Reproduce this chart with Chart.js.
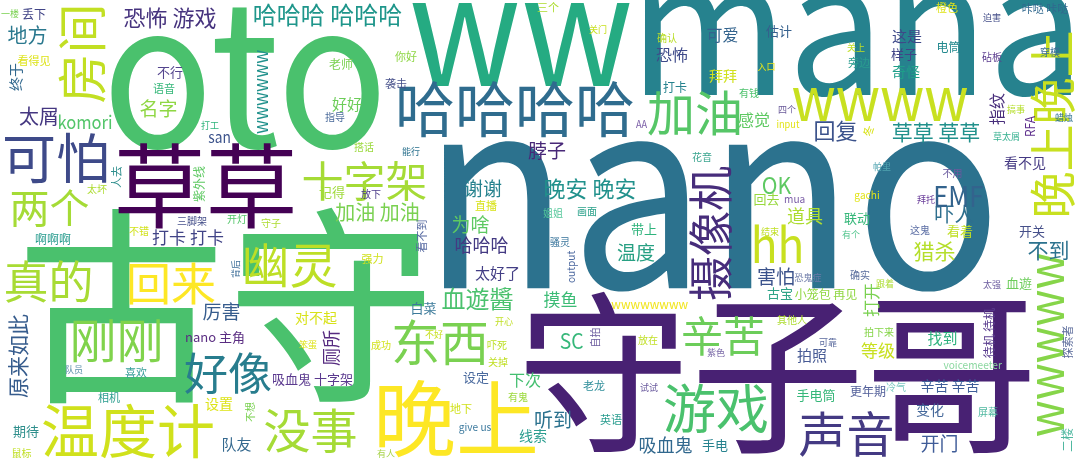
<!DOCTYPE html>
<html>
<head>
<meta charset="utf-8">
<script src="https://cdn.jsdelivr.net/npm/chart.js@4/dist/chart.umd.min.js"></script>
<style>
  html, body { margin: 0; padding: 0; background: #ffffff; }
  #cloud { display: block; }
</style>
</head>
<body>
<canvas id="cloud" width="1080" height="463"></canvas>
<script>
// words of the cloud and their weight (weight = font size in px)
const words = [
  '古守','nano','oto','守子哥','mana','ww','草草','晚上','哈哈哈哈','温度计',
  '可怕','游戏','房间','东西','加油','幽灵','声音','wwwww','wwww','两个',
  '真的','回来','十字架','刚刚','好像','没事','摄像机','辛苦','hh','晚上晚上',
  '恐怖 游戏','哈哈哈 哈哈哈','晚安 晚安','血遊醬','原来如此','草草 草草','回复','地方','太屑','名字',
  'komori','加油 加油','谢谢','为啥','哈哈哈','打卡 打卡','厉害','温度','害怕','摸鱼',
  '吓人','EMF','猎杀','不到','开门','听到','等级','厕所','打开','OK',
  '吸血鬼','SC','指纹','看不见','可爱','恐怖','感觉','下次','好好','这是',
  '道具','拍照','找到','太好了','队友','设置','对不起','辛苦 辛苦','变化','奇怪',
  '拜拜','线索','nano 主角','样子','估计','终于','看不到','记得','不行','联动',
  '看着','开关','血遊','带上','回去','古宝','期待','白菜','吸血鬼 十字架','设定',
  '手电筒','手电','打卡','电筒','小笼包 再见','更年期','待机 待机','老师','丢下','啊啊啊',
  '紫外线','二楼','RFA','output','wwwwww','wwwwwwww','san','看得见','语音','你好',
  '袭击','三个','旁边','橙色','咔哒 咔哒','强力','直播','人去','喜欢','相机',
  '地下','give us','英语','老龙','探索者','冬','不想','确认','有钱','砧板',
  '穿模','AA','input','搭话','太坏','三脚架','开灯','不错','守子','放下',
  '姐姐','画面','骚灵','花音','不用','gachi','这鬼','确实','成功','吓死',
  '关掉','有鬼','鼠标','放在','其他人','自拍','拍下来','冷气','屏幕','voicemeeter',
  '不好','开心','笨蛋','有人','紫色','试试','可靠','一楼','打工','指导',
  '能行','关门','入口','四个','迫害','关上','搞事','蜡烛','草太屑','结束',
  'mua','恐鬼症','帕里','拜托','有个','跟着','太强','背后','队员','脖子'
];
const freq = [
  210,264,200,174,186,152,92,83,60,58,
  54,53,50,49,48,48,48,50,60,40,
  45,45,42,47,44,47,45,42,48,47,
  22,24,22,24,21,21,22,20,20,19,
  18,20,19,19,18,17,19,19,19,17,
  20,28,21,21,19,19,17,18,17,23,
  18,21,16,14,16,16,16,16,15,15,
  18,15,15,15,15,14,14,14,14,14,
  14,14,13,13,13,14,11,13,13,13,
  13,13,13,13,13,13,13,13,13,13,
  13,13,12,12,12,12,12,12,12,12,
  12,12,13,11,19,13,15,11,11,11,
  11,11,11,11,11,11,11,11,11,11,
  11,11,11,11,11,11,10,10,10,10,
  10,10,10,10,10,10,10,10,10,10,
  10,10,10,10,10,11,10,10,10,10,
  10,10,10,10,10,10,10,10,10,11,
  9,9,9,9,9,9,9,9,9,10,
  9,9,9,9,9,9,9,9,9,9,
  11,9,9,9,9,9,9,9,9,19
];

// where each word sits in the cloud: [x, y, vertical, colour]
const place = {
  '古守': [226, 305, 0, '#4ac16d'], 'nano': [716, 216, 0, '#2c728e'], 'oto': [245, 78, 0, '#4ac16d'],
  '守子哥': [778, 372, 0, '#482173'], 'mana': [858, 44, 0, '#26828e'], 'ww': [521, 44, 0, '#25ab82'],
  '草草': [206, 186, 0, '#440154'], '晚上': [457, 418, 0, '#fde725'], '哈哈哈哈': [516, 109, 0, '#2f6c8e'],
  '温度计': [128, 431, 0, '#d0e11c'], '可怕': [56, 158, 0, '#3e4a89'], '游戏': [716, 408, 0, '#4ac16d'],
  '房间': [82, 55, 1, '#c2df23'], '东西': [440, 342, 0, '#7ad151'], '加油': [694, 113, 0, '#56c667'],
  '幽灵': [291, 265, 0, '#bddf26'], '声音': [846, 434, 0, '#443a83'], 'wwwww': [1050, 345, 1, '#86d549'],
  'wwww': [880, 104, 0, '#c8e020'], '两个': [50, 208, 0, '#a5db36'], '真的': [48, 281, 0, '#a8db34'],
  '回来': [172, 283, 0, '#fde725'], '十字架': [365, 180, 0, '#a5db36'], '刚刚': [117, 341, 0, '#80d34c'],
  '好像': [228, 373, 0, '#287d8e'], '没事': [310, 430, 0, '#a5db36'], '摄像机': [710, 233, 1, '#472d7b'],
  '辛苦': [723, 336, 0, '#6ccd5a'], 'hh': [778, 243, 0, '#c8e020'], '晚上晚上': [1052, 124, 1, '#c8e020'],
  '恐怖 游戏': [170, 18, 0, '#46337e'], '哈哈哈 哈哈哈': [328, 15, 0, '#1f968b'], '晚安 晚安': [590, 189, 0, '#21918c'],
  '血遊醬': [477, 299, 0, '#4ac16d'], '原来如此': [18, 356, 1, '#365c8d'], '草草 草草': [936, 132, 0, '#21918c'],
  '回复': [836, 131, 0, '#3b528b'], '地方': [27, 35, 0, '#2a788e'], '太屑': [38, 116, 0, '#453781'],
  '名字': [158, 108, 0, '#8fd744'], 'komori': [85, 121, 0, '#52c569'], '加油 加油': [377, 212, 0, '#7ad151'],
  '谢谢': [483, 188, 0, '#26828e'], '为啥': [471, 224, 0, '#5ec962'], '哈哈哈': [482, 245, 0, '#443a83'],
  '打卡 打卡': [188, 237, 0, '#414487'], '厉害': [221, 311, 0, '#365c8d'], '温度': [636, 252, 0, '#27a083'],
  '害怕': [776, 276, 0, '#3b528b'], '摸鱼': [560, 300, 0, '#3bbb75'], '吓人': [955, 214, 0, '#2e6f8e'],
  'EMF': [959, 196, 0, '#33638d'], '猎杀': [934, 251, 0, '#b5de2b'], '不到': [1048, 250, 0, '#2c728e'],
  '开门': [939, 443, 0, '#3f5c98'], '听到': [553, 419, 0, '#2c728e'], '等级': [878, 350, 0, '#c8e020'],
  '厕所': [331, 348, 1, '#562b80'], '打开': [871, 300, 1, '#7ad151'], 'OK': [777, 185, 0, '#5ec962'],
  '吸血鬼': [666, 445, 0, '#31688e'], 'SC': [572, 341, 0, '#35b779'], '指纹': [997, 109, 1, '#472d7b'],
  '看不见': [1025, 163, 0, '#443983'], '可爱': [722, 35, 0, '#33638d'], '恐怖': [672, 55, 0, '#3f4a8a'],
  '感觉': [754, 120, 0, '#5ec962'], '下次': [525, 380, 0, '#44bf70'], '好好': [347, 105, 0, '#6dcd59'],
  '这是': [907, 36, 0, '#3e4989'], '道具': [805, 216, 0, '#addc30'], '拍照': [812, 356, 0, '#485b95'],
  '找到': [942, 339, 0, '#2db27d'], '太好了': [497, 274, 0, '#433e85'], '队友': [237, 444, 0, '#35698f'],
  '设置': [219, 404, 0, '#dde318'], '对不起': [316, 318, 0, '#d8e219'], '辛苦 辛苦': [950, 386, 0, '#40609a'],
  '变化': [930, 410, 0, '#45689a'], '奇怪': [906, 71, 0, '#1f9e89'], '拜拜': [723, 76, 0, '#d0e11c'],
  '线索': [533, 435, 0, '#2a9d8f'], 'nano 主角': [215, 338, 0, '#5a2d82'], '样子': [904, 54, 0, '#414487'],
  '估计': [779, 31, 0, '#35608d'], '终于': [16, 77, 1, '#31688e'], '看不到': [421, 236, 1, '#5568a0'],
  '记得': [332, 192, 0, '#9fda3a'], '不行': [170, 73, 0, '#54458e'], '联动': [857, 219, 0, '#35b779'],
  '看着': [960, 231, 0, '#c0df25'], '开关': [1032, 231, 0, '#46508a'], '血遊': [1019, 284, 0, '#6ccd5a'],
  '带上': [644, 229, 0, '#2eb37c'], '回去': [767, 199, 0, '#98d83e'], '古宝': [780, 293, 0, '#2fa488'],
  '期待': [26, 432, 0, '#2f8f8c'], '白菜': [424, 308, 0, '#3b7a9a'], '吸血鬼 十字架': [313, 379, 0, '#5b3a8f'],
  '设定': [476, 378, 0, '#4a6a9e'], '手电筒': [816, 395, 0, '#35b779'], '手电': [715, 445, 0, '#26828e'],
  '打卡': [675, 87, 0, '#26828e'], '电筒': [949, 47, 0, '#23898e'], '小笼包 再见': [826, 294, 0, '#90d743'],
  '更年期': [868, 391, 0, '#53609a'], '待机 待机': [989, 333, 1, '#5a3d8e'], '老师': [341, 64, 0, '#7ad151'],
  '丢下': [34, 14, 0, '#414487'], '啊啊啊': [53, 239, 0, '#2a9d8f'], '紫外线': [199, 184, 1, '#5ec962'],
  '二楼': [1066, 440, 1, '#4fb8a0'], 'RFA': [1030, 126, 1, '#5d2e8c'], 'output': [572, 267, 1, '#4e6aa0'],
  'wwwwww': [262, 92, 1, '#21918c'], 'wwwwwwww': [650, 305, 0, '#f1e51d'], 'san': [219, 138, 0, '#3b528b'],
  '看得见': [34, 60, 0, '#dde318'], '语音': [164, 88, 0, '#35b779'], '你好': [406, 56, 0, '#8ed645'],
  '袭击': [396, 83, 0, '#46508a'], '三个': [548, 7, 0, '#addc30'], '旁边': [859, 62, 0, '#2a9d8f'],
  '橙色': [947, 7, 0, '#dfe318'], '咔哒 咔哒': [1045, 8, 0, '#31688e'], '强力': [372, 259, 0, '#d0e11c'],
  '直播': [486, 205, 0, '#d8e219'], '人去': [116, 177, 1, '#2e8e8c'], '喜欢': [136, 372, 0, '#3a9f9a'],
  '相机': [109, 397, 0, '#2a9d8f'], '地下': [461, 409, 0, '#d0e11c'], 'give us': [475, 428, 0, '#3e7b9f'],
  '英语': [611, 419, 0, '#2a9d8f'], '老龙': [594, 385, 0, '#2f8e9a'], '探索者': [1067, 342, 1, '#5a6a9a'],
  '冬': [868, 131, 1, '#d8e219'], '不想': [250, 412, 1, '#7ad151'], '确认': [667, 38, 0, '#bade28'],
  '有钱': [749, 93, 0, '#4cc26c'], '砧板': [992, 57, 0, '#5b3c8e'], '穿模': [1050, 52, 0, '#3b6f97'],
  'AA': [642, 124, 0, '#7b5ea7'], 'input': [788, 125, 0, '#e3e418'], '搭话': [364, 147, 0, '#9bd93c'],
  '太坏': [97, 189, 0, '#addc30'], '三脚架': [192, 221, 0, '#46508a'], '开灯': [237, 219, 0, '#52c569'],
  '不错': [139, 231, 0, '#d2e21b'], '守子': [271, 223, 0, '#addc30'], '放下': [371, 194, 0, '#4b3a8a'],
  '姐姐': [553, 213, 0, '#54c79a'], '画面': [587, 212, 0, '#2aa18a'], '骚灵': [560, 242, 0, '#35729a'],
  '花音': [702, 157, 0, '#3aa58f'], '不用': [952, 174, 0, '#6a5a9e'], 'gachi': [867, 196, 0, '#e2e418'],
  '这鬼': [920, 230, 0, '#5d6fa5'], '确实': [860, 275, 0, '#5a6e9e'], '成功': [381, 345, 0, '#d2e21b'],
  '吓死': [497, 345, 0, '#bddf26'], '关掉': [498, 362, 0, '#c0df25'], '有鬼': [518, 397, 0, '#9bd93c'],
  '鼠标': [22, 453, 0, '#c0df25'], '放在': [648, 340, 0, '#c0df25'], '其他人': [792, 320, 0, '#addc30'],
  '自拍': [595, 337, 1, '#6b5b9e'], '拍下来': [879, 332, 0, '#86d549'], '冷气': [896, 387, 0, '#7cc8c0'],
  '屏幕': [988, 412, 0, '#4fb8a0'], 'voicemeeter': [973, 364, 0, '#8bd8a0'], '不好': [434, 334, 0, '#c8e020'],
  '开心': [504, 322, 0, '#c0df25'], '笨蛋': [308, 344, 0, '#dde318'], '有人': [386, 453, 0, '#a8d34a'],
  '紫色': [716, 352, 0, '#7b6aa8'], '试试': [649, 387, 0, '#6b5b9e'], '可靠': [828, 342, 0, '#5a6a9e'],
  '一楼': [10, 13, 0, '#7ad151'], '打工': [210, 125, 0, '#2fb47c'], '指导': [335, 117, 0, '#4a6a9a'],
  '能行': [411, 151, 0, '#2c728e'], '关门': [598, 29, 0, '#c8e020'], '入口': [766, 66, 0, '#e5e419'],
  '四个': [787, 109, 0, '#6b5b9a'], '迫害': [992, 17, 0, '#46508a'], '关上': [856, 47, 0, '#c0df25'],
  '搞事': [1016, 109, 0, '#b5de2b'], '蜡烛': [1064, 117, 0, '#2d708e'], '草太屑': [1006, 136, 0, '#35b08f'],
  '结束': [770, 231, 0, '#c0df25'], 'mua': [795, 200, 0, '#7b5ea7'], '恐鬼症': [808, 277, 0, '#6c7aa8'],
  '帕里': [882, 166, 0, '#4fa3b0'], '拜托': [926, 199, 0, '#6a3d9a'], '有个': [851, 234, 0, '#55c68f'],
  '跟着': [885, 283, 0, '#addc30'], '太强': [992, 284, 0, '#6b5b9e'], '背后': [235, 269, 1, '#3e6f9a'],
  '队员': [74, 369, 0, '#5a8eaa'], '脖子': [547, 150, 0, '#482878']
};

const FONT = '"Noto Sans CJK SC", "Noto Sans", sans-serif';
// the Latin face of the original cloud is a little narrower than Noto's
const LATIN_SQUEEZE = 0.92;

// draws each word centred (by its ink box) on its point
const cloudText = {
  id: 'cloudText',
  afterDatasetsDraw(chart) {
    const c = chart.ctx;
    const pts = chart.getDatasetMeta(0).data;
    pts.forEach((pt, i) => {
      const w = words[i];
      const p = place[w];
      c.save();
      c.font = freq[i] + 'px ' + FONT;
      c.fillStyle = p[3];
      c.textAlign = 'left';
      c.textBaseline = 'alphabetic';
      const m = c.measureText(w);
      const dx = (m.actualBoundingBoxRight - m.actualBoundingBoxLeft) / 2;
      const dy = (m.actualBoundingBoxDescent - m.actualBoundingBoxAscent) / 2;
      c.translate(pt.x, pt.y);
      if (p[2]) c.rotate(-Math.PI / 2);
      if (/^[\x00-\x7f]+$/.test(w)) c.scale(LATIN_SQUEEZE, 1);
      c.fillText(w, -dx, -dy);
      c.restore();
    });
  }
};

const ctx = document.getElementById('cloud').getContext('2d');
new Chart(ctx, {
  type: 'scatter',
  data: {
    datasets: [{
      label: 'words',
      data: words.map(w => ({ x: place[w][0], y: place[w][1] })),
      pointRadius: 0,
      pointHoverRadius: 0,
      clip: false
    }]
  },
  options: {
    responsive: false,
    animation: false,
    events: [],
    layout: { padding: 0 },
    scales: {
      x: { type: 'linear', min: 0, max: 1080, display: false },
      y: { type: 'linear', min: 0, max: 463, reverse: true, display: false }
    },
    plugins: {
      legend: { display: false },
      tooltip: { enabled: false }
    }
  },
  plugins: [cloudText]
});
</script>
</body>
</html>
